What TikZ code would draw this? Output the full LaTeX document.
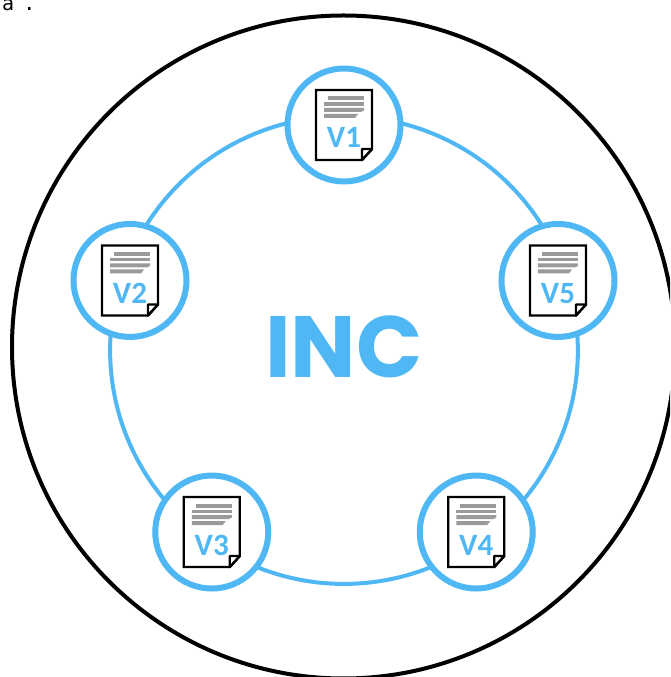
\documentclass[tikz,border=0pt]{standalone}
\usepackage{fontspec}
\setmainfont{Liberation Sans}
\newfontfamily\labelfont{Carlito}[Scale=1]
\newfontfamily\titlefont{Poppins}[Scale=1]
\newfontfamily\cornerfont{DejaVu Sans Mono}
\definecolor{skyline}{HTML}{4FB7F4}
\definecolor{pagegray}{HTML}{999A9C}
\tikzset{
  x=1pt,y=1pt,
  bigring/.style={circle,draw=black,line width=4pt,minimum size=663pt,inner sep=0pt,outer sep=0pt},
  vnode/.style={circle,draw=skyline,line width=6pt,fill=white,minimum size=113pt,inner sep=0pt,outer sep=0pt},
  link/.style={draw=skyline,line width=4pt},
  pics/docicon/.style={code={
    \draw[black,line width=2.4pt,fill=white,line join=miter] (-28,35)--(28,35)--(28,-24)--(18,-35)--(-28,-35)--cycle;
    \draw[black,line width=2.4pt,fill=white,line join=round] (18,-35)--(18,-24)--(28,-24)--cycle;
    \fill[pagegray] (-16,28.5) rectangle (20,24.5);
    \fill[pagegray] (-20,22.5) rectangle (20,19);
    \fill[pagegray] (-20,17) -- (20,17) -- (20,14.5) -- (17,13) -- (-20,13) -- cycle;
    \fill[pagegray] (-20,11) -- (14,11) -- (11,7) -- (-20,7) -- cycle;
    \node[anchor=base,inner sep=0pt,text=skyline] at (0,-23) {\labelfont\fontsize{31}{31}\selectfont\bfseries #1};
  }},
}
\begin{document}
\begin{tikzpicture}
\useasboundingbox (0,0) rectangle (670,677);
\clip (0,0) rectangle (670,677);
\node[bigring] (outer) at (343.5,330) {};
\coordinate (hub) at (344,327);
\node[vnode] (v1) at ([shift={(90:225pt)}]hub) {};
\node[vnode] (v2) at ([shift={(162:225pt)}]hub) {};
\node[vnode] (v3) at ([shift={(234:225pt)}]hub) {};
\node[vnode] (v4) at ([shift={(306:225pt)}]hub) {};
\node[vnode] (v5) at ([shift={(18:225pt)}]hub) {};
\draw[link] (v1.178.8) arc[start angle=103.9,end angle=148.1,radius=233pt];
\draw[link] (v2.250.8) arc[start angle=175.9,end angle=220.1,radius=233pt];
\draw[link] (v3.322.8) arc[start angle=247.9,end angle=292.1,radius=233pt];
\draw[link] (v4.34.8) arc[start angle=319.9,end angle=364.1,radius=233pt];
\draw[link] (v5.106.8) arc[start angle=31.9,end angle=76.1,radius=233pt];
\pic at (v1) {docicon={V1}};
\pic at (v2) {docicon={V2}};
\pic at (v3) {docicon={V3}};
\pic at (v4) {docicon={V4}};
\pic at (v5) {docicon={V5}};
\node[anchor=base,inner sep=0pt,text=skyline] (inc) at (344,299) {\titlefont\fontsize{87}{87}\selectfont\bfseries INC};
\node[anchor=base west,inner sep=0pt] (corner) at (2,666) {\cornerfont\fontsize{20}{20}\selectfont a \hspace{-3pt}.};
\end{tikzpicture}
\end{document}
